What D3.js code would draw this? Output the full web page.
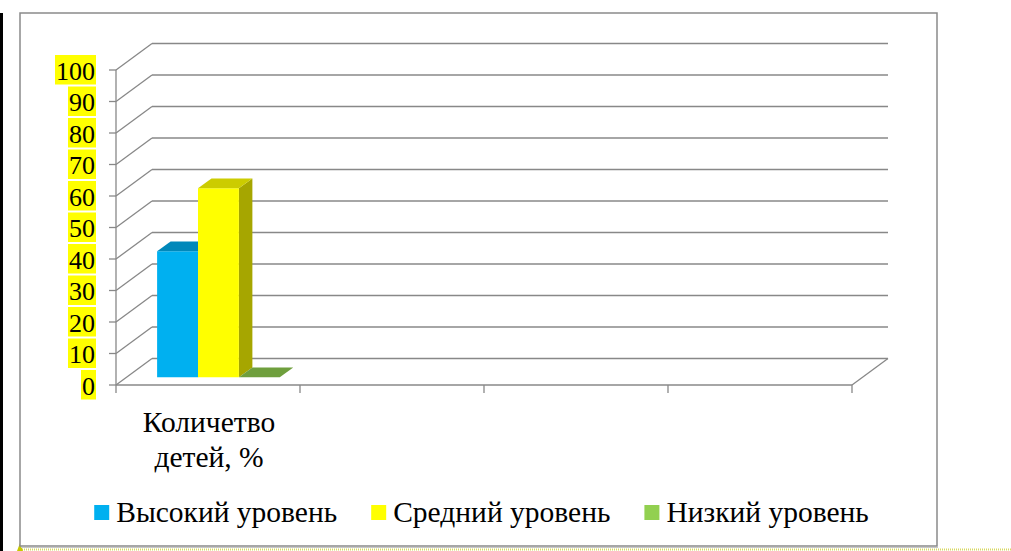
<!DOCTYPE html>
<html>
<head>
<meta charset="utf-8">
<script src="https://cdn.jsdelivr.net/npm/d3@7"></script>
<style>
  html, body { margin: 0; padding: 0; background: #fff; }
  #chart text { font-family: 'Liberation Serif', 'Times New Roman', serif !important; }
</style>
</head>
<body>
<svg id="chart" width="1011" height="551"></svg>
<script>
const categories = ['Количетво детей, %', '', '', ''];
const seriesNames = ['Высокий уровень', 'Средний уровень', 'Низкий уровень'];
const seriesValues = [
    [40, null, null, null],
    [60, null, null, null],
    [0, null, null, null],
];
const yTicks = [0, 10, 20, 30, 40, 50, 60, 70, 80, 90, 100];

const fronts = ['#00B0F0', '#FFFF00', '#92D050'];
const tops = ['#0088BA', '#CCCC00', '#6F9F3D'];
const sides = ['#0077A3', '#A6A600', '#5E8A33'];

const font = "'Liberation Serif'";
const svg = d3.select('#chart');
const grid = '#888888';

// 3d frame
const depth = { dx: 36, dy: -26.5 };
const x = d3.scaleBand().domain(d3.range(categories.length)).range([116, 852]);
const y = d3.scaleLinear().domain([0, 100]).range([385, 70]);
const bx = d3.scaleBand().domain(d3.range(seriesNames.length))
    .range([0, x.bandwidth()]).paddingOuter(0.75).paddingInner(0);
const barZ0 = 0.29, barZ1 = 0.665;

// outer decorations
svg.append('rect').attr('x', 0).attr('y', 13).attr('width', 3).attr('height', 538).attr('fill', '#000');
svg.append('line').attr('x1', 18).attr('x2', 1011).attr('y1', 549.5).attr('y2', 549.5)
    .attr('stroke', '#d8d860').attr('stroke-width', 2).attr('stroke-dasharray', '1,1');
svg.append('path').attr('d', 'M17,551 L20,543 L23,551 Z').attr('fill', '#c8c800');

// chart border
svg.append('rect').attr('x', 20).attr('y', 13).attr('width', 917).attr('height', 533)
    .attr('fill', '#fff').attr('stroke', '#8a8a8a').attr('stroke-width', 1.5);
svg.append('line').attr('x1', 21).attr('x2', 938).attr('y1', 547.5).attr('y2', 547.5)
    .attr('stroke', '#c8c8c8').attr('stroke-width', 1);

const g = svg.append('g');
const x0 = x.range()[0], x1 = x.range()[1];

// back wall gridlines and left wall diagonals
yTicks.forEach(v => {
    g.append('line')
        .attr('x1', x0 + depth.dx).attr('x2', x1 + depth.dx)
        .attr('y1', y(v) + depth.dy).attr('y2', y(v) + depth.dy)
        .attr('stroke', grid).attr('stroke-width', 1.3);
    g.append('line')
        .attr('x1', x0).attr('x2', x0 + depth.dx)
        .attr('y1', y(v)).attr('y2', y(v) + depth.dy)
        .attr('stroke', grid).attr('stroke-width', 1.3);
});

// floor edges
g.append('line').attr('x1', x0).attr('x2', x1).attr('y1', y(0)).attr('y2', y(0))
    .attr('stroke', grid).attr('stroke-width', 1.3);
g.append('line').attr('x1', x1).attr('x2', x1 + depth.dx).attr('y1', y(0)).attr('y2', y(0) + depth.dy)
    .attr('stroke', grid).attr('stroke-width', 1.3);

// value axis
g.append('line').attr('x1', x0).attr('x2', x0).attr('y1', y(0)).attr('y2', y(100))
    .attr('stroke', grid).attr('stroke-width', 1.3);
yTicks.forEach(v => {
    g.append('line').attr('x1', x0 - 7).attr('x2', x0).attr('y1', y(v)).attr('y2', y(v))
        .attr('stroke', grid).attr('stroke-width', 1.3);
});

// category ticks
d3.range(categories.length + 1).forEach(i => {
    const cx = x0 + i * x.step();
    g.append('line').attr('x1', cx).attr('x2', cx).attr('y1', y(0)).attr('y2', y(0) + 8)
        .attr('stroke', grid).attr('stroke-width', 1.3);
});

// y labels with highlight (width of box filled in by layout())
const yl = svg.append('g');
const yBoxes = yTicks.map(v => {
    const r = yl.append('rect').attr('y', y(v) - 15).attr('height', 29.5).attr('fill', '#FFFF00');
    const t = yl.append('text').attr('x', 95).attr('y', y(v) + 9.5)
        .attr('font-family', font).attr('font-size', 26)
        .attr('text-anchor', 'end').attr('fill', '#000').text(v);
    return { r, t };
});

// bars
const bars = svg.append('g');
function pt(px, py, z) {
    return [px + z * depth.dx, py + z * depth.dy];
}
categories.forEach((c, ci) => {
    seriesNames.forEach((s, si) => {
        const v = seriesValues[si][ci];
        if (v === null) return;
        const left = x(ci) + bx(si), right = left + bx.bandwidth();
        const bot = y(0), top = y(v);
        const poly = pts => pts.map(p => p.join(',')).join(' ');
        // side
        bars.append('polygon').attr('points', poly([
            pt(right, bot, barZ0), pt(right, bot, barZ1), pt(right, top, barZ1), pt(right, top, barZ0)
        ])).attr('fill', sides[si]);
        // front
        bars.append('polygon').attr('points', poly([
            pt(left, bot, barZ0), pt(right, bot, barZ0), pt(right, top, barZ0), pt(left, top, barZ0)
        ])).attr('fill', fronts[si]);
        // top
        bars.append('polygon').attr('points', poly([
            pt(left, top, barZ0), pt(right, top, barZ0), pt(right, top, barZ1), pt(left, top, barZ1)
        ])).attr('fill', tops[si]);
    });
});

// category labels
const cl = svg.append('g');
categories.forEach((c, ci) => {
    if (!c) return;
    const parts = ['Количетво', 'детей, %'];
    parts.forEach((p, k) => {
        cl.append('text').attr('x', x(ci) + x.bandwidth() / 2 + 1).attr('y', 432 + k * 35)
            .attr('font-family', font).attr('font-size', 29.5).attr('text-anchor', 'middle')
            .text(p);
    });
});

// legend
const lg = svg.append('g');
const items = seriesNames.map((s, i) => {
    const it = lg.append('g');
    it.append('rect').attr('width', 15).attr('height', 15).attr('y', -17).attr('fill', fronts[i]);
    const t = it.append('text').attr('x', 22).attr('y', 0)
        .attr('font-family', font).attr('font-size', 29.5).text(s);
    return { it, t };
});

function layout() {
    yBoxes.forEach(({ r, t }) => {
        const w = t.node().getComputedTextLength();
        r.attr('x', 95 - w - 1).attr('width', w + 2);
    });
    const gap = 34;
    const widths = items.map(d => 22 + d.t.node().getComputedTextLength());
    const total = d3.sum(widths) + gap * (items.length - 1);
    let lx = 481.5 - total / 2;
    items.forEach((d, i) => {
        d.it.attr('transform', `translate(${lx},522)`);
        lx += widths[i] + gap;
    });
}
layout();
if (document.fonts) document.fonts.ready.then(layout);
setTimeout(layout, 50);
</script>
</body>
</html>
